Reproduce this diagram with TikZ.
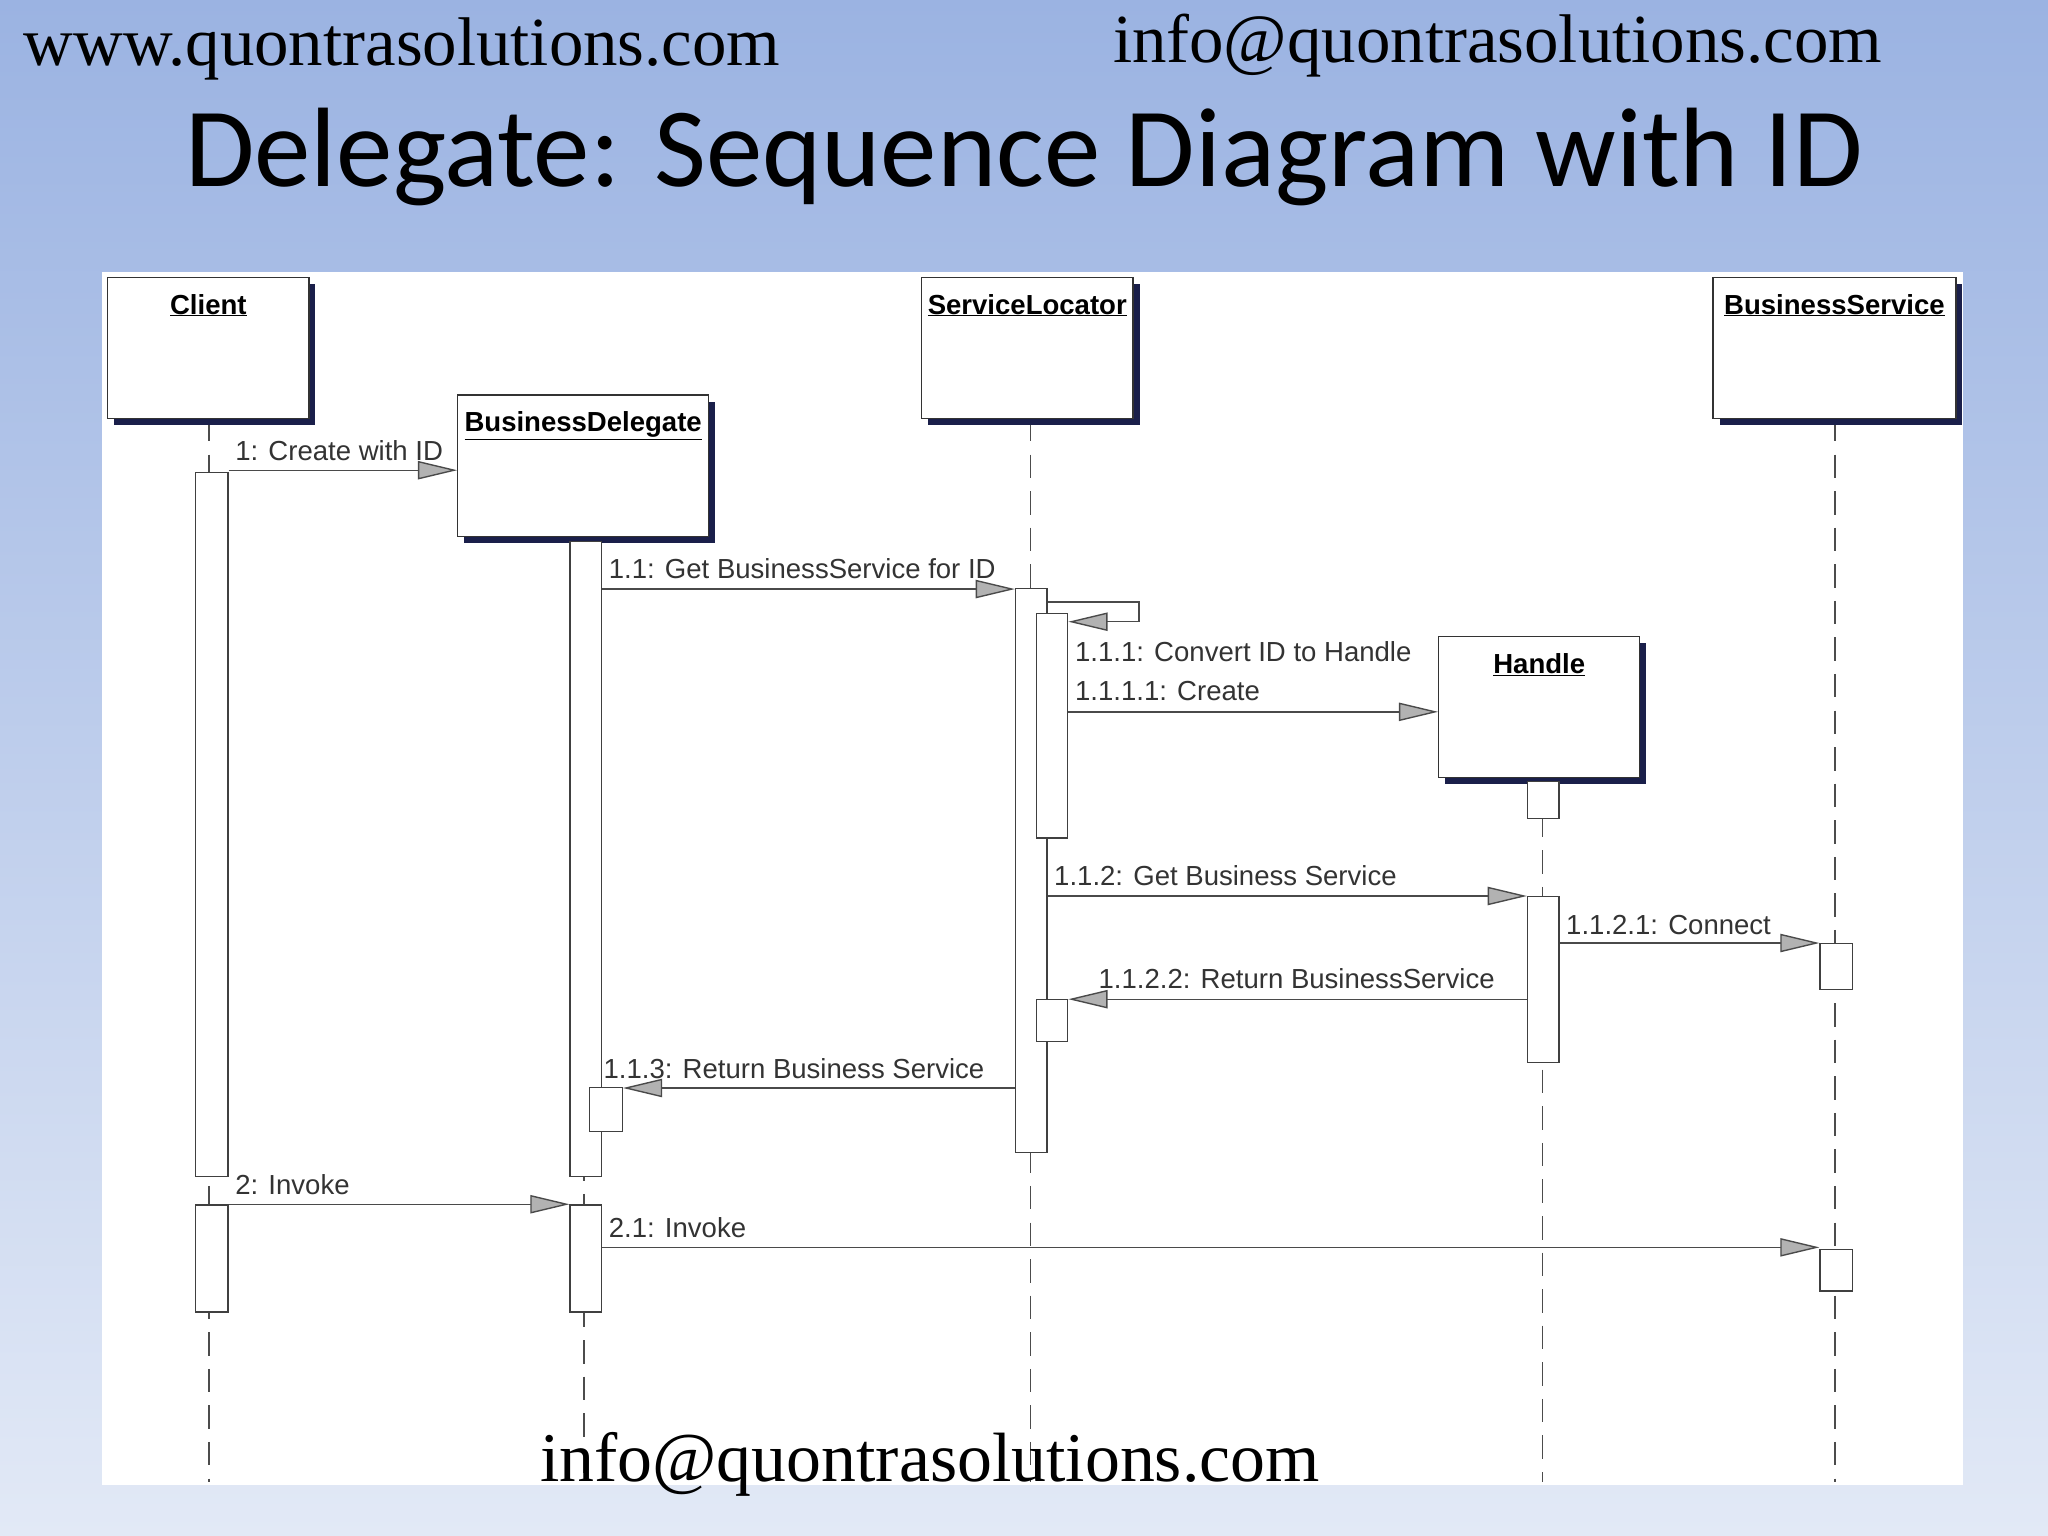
\documentclass[tikz,border=0pt]{standalone}
\usepackage{fontspec}
\setmainfont{Liberation Serif}
\newfontfamily\lblfont{Liberation Sans}
\newfontfamily\titlefont{Carlito}
\usetikzlibrary{arrows.meta,shadows,calc}
\definecolor{bgtop}{HTML}{9BB3E2}
\definecolor{bgbot}{HTML}{E2E9F6}
\definecolor{shad}{HTML}{1A1F4A}
\definecolor{ln}{HTML}{4A4A4A}
\tikzset{
  obj/.style={draw=black!80,fill=white,line width=1.4pt,anchor=north west,inner sep=0pt,
    drop shadow={shadow xshift=2.5mm,shadow yshift=-2.5mm,fill=shad,opacity=1}},
  objname/.style={font=\lblfont\bfseries\fontsize{30}{32}\selectfont,anchor=north,inner sep=0pt},
  act/.style={draw=black!75,fill=white,line width=1.4pt,anchor=north west,inner sep=0pt},
  life/.style={draw=black!70,line width=1.6pt,dash pattern=on 9mm off 5mm},
  msg/.style={draw=ln,line width=1.5pt,-{Triangle[length=15mm,width=7mm,fill=gray!60]}},
  lbl/.style={font=\lblfont\fontsize{30}{32}\selectfont,text=black!80,anchor=south west,inner sep=0pt}
}
\newcommand{\objbox}[6]{% name, x, y, w, h, text
  \node[obj,minimum width=#4*0.5mm,minimum height=#5*0.5mm] (#1) at (#2,#3) {};
  \node[objname] at ($(#1.north)+(0,13)$) {\underline{#6}};}
\newcommand{\actbox}[5]{%
  \node[act,minimum width=#4*0.5mm,minimum height=#5*0.5mm] (#1) at (#2,#3) {};}
\begin{document}
\begin{tikzpicture}[x=0.5mm,y=-0.5mm]
\useasboundingbox (0,0) rectangle (1568,1176);
\shade[top color=bgtop,bottom color=bgbot] (0,0) rectangle (1568,1176);
\fill[white] (78,208) rectangle (1503,1137);
\node[anchor=base west,inner sep=0pt,font=\fontsize{75}{80}\selectfont] (h1) at (18,50) {www.quontrasolutions.com};
\node[anchor=base west,inner sep=0pt,font=\fontsize{75}{80}\selectfont] (h2) at (852,48) {info@quontrasolutions.com};
\node[anchor=base,inner sep=0pt,font=\titlefont\fontsize{123}{130}\selectfont] (title) at (784,143) {Delegate: Sequence Diagram with ID};
% lifelines
\draw[life] (160,320) -- (160,1135);
\draw[life] (447,410) -- (447,1135);
\draw[life] (789,320) -- (789,1135);
\draw[life] (1181,595) -- (1181,1135);
\draw[life] (1405,320) -- (1405,1135);
% objects
\objbox{client}{82}{212}{154}{108}{Client}
\objbox{bd}{350}{302}{192}{108}{BusinessDelegate}
\objbox{sl}{705}{212}{162}{108}{ServiceLocator}
\objbox{bs}{1311}{212}{186}{108}{BusinessService}
\objbox{hd}{1101}{487}{154}{108}{Handle}
% activations
\actbox{c1}{149}{361}{25}{539}
\actbox{c2}{149}{922}{25}{82}
\actbox{b1}{436}{414}{24}{486}
\actbox{b2}{451}{832}{25}{34}
\actbox{b3}{436}{922}{24}{82}
\actbox{s1}{777}{450}{24}{432}
\actbox{s2}{793}{469}{24}{172}
\actbox{s3}{793}{765}{24}{32}
\actbox{h1a}{1169}{598}{24}{28}
\actbox{h2a}{1169}{686}{24}{127}
\actbox{x1}{1393}{722}{25}{35}
\actbox{x2}{1393}{956}{25}{32}
% messages
\draw[msg] (c1.east |- 0,360) -- (bd.west |- 0,360);
\node[lbl] at (180,353) {1: Create with ID};
\draw[msg] (b1.east |- 0,451) -- (s1.west |- 0,451);
\node[lbl] at (466,443) {1.1: Get BusinessService for ID};
\draw[msg] (s1.east |- 0,461) -- (872,461) -- (872,476) -- (s2.east |- 0,476);
\node[lbl] at (823,507) {1.1.1: Convert ID to Handle};
\draw[msg] (s2.east |- 0,545) -- (hd.west |- 0,545);
\node[lbl] at (823,537) {1.1.1.1: Create};
\draw[msg] (s1.east |- 0,686) -- (h2a.west |- 0,686);
\node[lbl] at (807,678) {1.1.2: Get Business Service};
\draw[msg] (h2a.east |- 0,722) -- (x1.west |- 0,722);
\node[lbl] at (1199,716) {1.1.2.1: Connect};
\draw[msg] (h2a.west |- 0,765) -- (s3.east |- 0,765);
\node[lbl] at (841,757) {1.1.2.2: Return BusinessService};
\draw[msg] (s1.west |- 0,833) -- (b2.east |- 0,833);
\node[lbl] at (462,826) {1.1.3: Return Business Service};
\draw[msg] (c2.east |- 0,922) -- (b3.west |- 0,922);
\node[lbl] at (180,915) {2: Invoke};
\draw[msg] (b3.east |- 0,955) -- (x2.west |- 0,955);
\node[lbl] at (466,948) {2.1: Invoke};
\node[anchor=base,inner sep=0pt,font=\fontsize{76}{80}\selectfont] (foot) at (712,1134) {info@quontrasolutions.com};
\end{tikzpicture}
\end{document}
